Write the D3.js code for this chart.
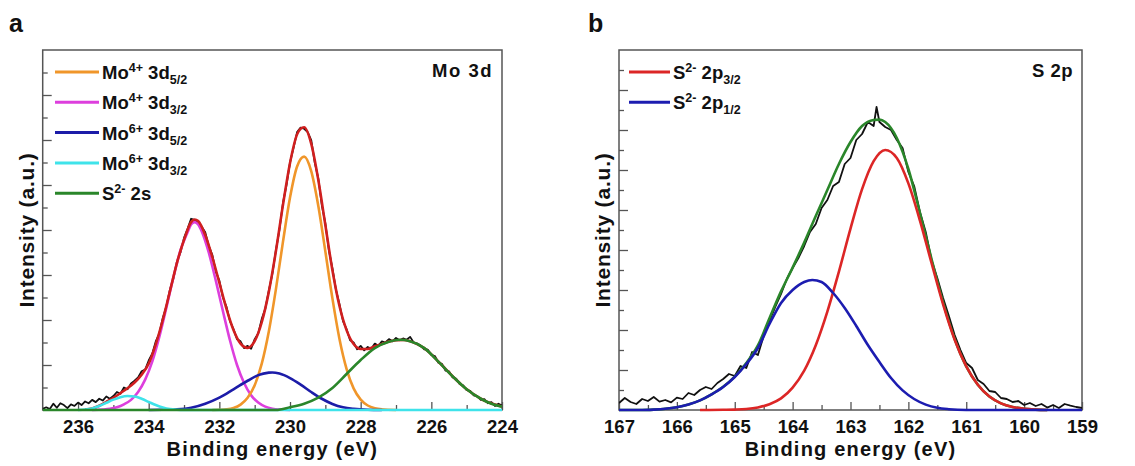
<!DOCTYPE html>
<html>
<head>
<meta charset="utf-8">
<script src="https://cdnjs.cloudflare.com/ajax/libs/d3/7.8.5/d3.min.js"></script>
<style>
body { margin: 0; background: #fff; }
svg { display: block; font-family: "Liberation Sans", Arial, sans-serif; font-weight: bold; }
</style>
</head>
<body>
<script>
// ---- panel a : Mo 3d ----
var moMajorX = [236, 234, 232, 230, 228, 226, 224];
var moMinorX = [235, 233, 231, 229, 227, 225];
var moMajorY = [2, 4, 6, 8, 10, 12, 14];
var moMinorY = [1, 3, 5, 7, 9, 11, 13, 15];
var moLegend = [['Mo', '4+', ' 3d', '5/2'], ['Mo', '4+', ' 3d', '3/2'], ['Mo', '6+', ' 3d', '5/2'], ['Mo', '6+', ' 3d', '3/2'], ['S', '2-', ' 2s', '']];

var moRaw = [[237.0,0.05],[236.9,0.12],[236.8,0.04],[236.7,0.28],[236.6,0.1],[236.5,0.3],[236.4,0.22],[236.3,0.08],[236.2,0.25],[236.1,0.18],
  [236.0,0.33],[235.9,0.22],[235.8,0.38],[235.7,0.3],[235.6,0.45],[235.5,0.35],[235.4,0.5],[235.3,0.42],[235.2,0.6],[235.1,0.5],
  [235.0,0.62],[234.9,0.8],[234.8,0.72],[234.7,1.0],[234.6,0.92],[234.5,1.18],[234.4,1.3],[234.3,1.45],[234.2,1.72],[234.1,1.8],
  [234.0,2.2],[233.9,2.5],[233.8,3.05],[233.7,3.4],[233.6,4.1],[233.5,4.6],[233.4,5.35],[233.3,5.85],[233.2,6.6],[233.1,7.0],
  [233.0,7.65],[232.9,8.05],[232.8,8.5],[232.7,8.45],[232.6,8.3],[232.5,8.15],[232.4,7.9],[232.3,7.3],[232.2,6.9],[232.1,6.15],
  [232.0,5.75],[231.9,5.0],[231.8,4.6],[231.7,3.95],[231.6,3.6],[231.5,3.15],[231.4,3.05],[231.3,2.75],[231.2,2.85],[231.1,2.72],
  [231.0,3.15],[230.9,3.4],[230.8,4.05],[230.7,4.5],[230.6,5.3],[230.5,6.05],[230.4,7.1],[230.3,8.0],[230.2,9.2],[230.1,10.0],
  [230.0,11.0],[229.9,11.65],[229.8,12.35],[229.7,12.55],[229.6,12.5],[229.5,12.35],[229.4,12.0],[229.3,11.0],[229.2,10.3],[229.1,9.1],
  [229.0,8.3],[228.9,7.1],[228.8,6.3],[228.7,5.35],[228.6,4.7],[228.5,3.95],[228.4,3.6],[228.3,3.1],[228.2,3.0],[228.1,2.7],
  [228.0,2.85],[227.9,2.65],[227.8,2.8],[227.7,2.72],[227.6,2.95],[227.5,2.85],[227.4,3.05],[227.3,3.0],[227.2,3.15],[227.1,3.05],
  [227.0,3.2],[226.9,3.1],[226.8,3.18],[226.7,3.12],[226.6,3.25],[226.5,3.0],[226.4,2.95],[226.3,2.85],[226.2,2.7],[226.1,2.68],
  [226.0,2.45],[225.9,2.4],[225.8,2.1],[225.7,2.05],[225.6,1.75],[225.5,1.72],[225.4,1.45],[225.3,1.4],[225.2,1.15],[225.1,1.1],
  [225.0,0.88],[224.9,0.85],[224.8,0.65],[224.7,0.62],[224.6,0.45],[224.5,0.48],[224.4,0.3],[224.3,0.35],[224.2,0.18],[224.1,0.28],[224.0,0.2]];

var moEnvelope = [[235.8,0.02],[235.6,0.07],[235.4,0.19],[235.2,0.36],[235.0,0.54],[234.8,0.75],[234.6,0.97],[234.4,1.22],[234.2,1.57],[234.0,2.06],
  [233.8,2.92],[233.6,4.01],[233.4,5.27],[233.2,6.54],[233.0,7.56],[232.8,8.35],[232.7,8.47],[232.6,8.4],[232.4,7.78],[232.2,6.8],
  [232.0,5.66],[231.8,4.51],[231.6,3.56],[231.4,2.95],[231.2,2.76],[231.0,3.06],[230.8,3.9],[230.6,5.25],[230.4,7.05],[230.2,9.11],
  [230.0,10.98],[229.8,12.25],[229.7,12.5],[229.6,12.57],[229.4,11.84],[229.2,10.23],[229.0,8.22],[228.8,6.21],[228.6,4.62],[228.4,3.55],
  [228.2,2.93],[228.0,2.71],[227.8,2.71],[227.6,2.83],[227.4,2.93],[227.2,3.04],[227.0,3.1],[226.8,3.11],[226.6,3.06],[226.4,2.93],
  [226.2,2.75],[226.0,2.47],[225.8,2.15],[225.6,1.83],[225.4,1.5],[225.2,1.2],[225.0,0.92],[224.8,0.7],[224.6,0.5],[224.4,0.35],[224.2,0.24],[224.0,0.15]];

var mo4d52 = [[232.2,0],[232.0,0.01],[231.8,0.03],[231.6,0.09],[231.4,0.24],[231.2,0.54],[231.0,1.1],[230.8,2.06],[230.6,3.49],[230.4,5.36],
  [230.2,7.47],[230.0,9.44],[229.8,10.82],[229.6,11.26],[229.4,10.62],[229.2,9.08],[229.0,7.05],[228.8,4.96],[228.6,3.16],[228.4,1.83],
  [228.2,0.96],[228.0,0.46],[227.8,0.2],[227.6,0.08],[227.4,0.03],[227.0,0]];

var mo4d32 = [[235.6,0],[235.3,0.02],[235.1,0.05],[234.9,0.12],[234.7,0.25],[234.5,0.45],[234.3,0.8],[234.1,1.35],[233.9,2.15],[233.7,3.25],
  [233.5,4.55],[233.3,5.9],[233.1,7.1],[232.9,7.9],[232.8,8.25],[232.7,8.35],[232.6,8.25],[232.5,7.95],[232.3,7.0],[232.1,5.75],
  [231.9,4.4],[231.7,3.1],[231.5,2.0],[231.3,1.2],[231.1,0.65],[230.9,0.33],[230.7,0.15],[230.5,0.06],[230.3,0.02],[230.0,0]];

var mo6d52 = [[234.0,0],[233.6,0.01],[233.2,0.03],[232.8,0.1],[232.4,0.28],[232.0,0.55],[231.6,0.92],[231.2,1.3],[230.9,1.55],[230.6,1.66],
  [230.5,1.67],[230.3,1.62],[230.0,1.42],[229.7,1.13],[229.4,0.8],[229.1,0.5],[228.8,0.27],[228.5,0.12],[228.2,0.05],[227.8,0.01],[227.4,0]];

var mo6d32 = [[236.0,0],[235.8,0.02],[235.6,0.07],[235.4,0.18],[235.2,0.32],[235.0,0.46],[234.8,0.57],[234.6,0.62],[234.4,0.6],[234.2,0.5],
  [234.0,0.36],[233.8,0.22],[233.6,0.11],[233.4,0.04],[233.2,0.01],[233.0,0],[224.0,0]];

var s2s = [[237.0,0],[230.4,0],[230.0,0.12],[229.6,0.28],[229.2,0.55],[228.8,0.98],[228.4,1.6],[228.0,2.22],[227.6,2.75],[227.2,3.03],
  [226.9,3.12],[226.6,3.06],[226.2,2.75],[225.8,2.15],[225.4,1.5],[225.0,0.92],[224.6,0.5],[224.3,0.28],[224.0,0.15]];

// ---- panel b : S 2p ----
var sMajorX = [167, 166, 165, 164, 163, 162, 161, 160, 159];
var sMinorX = [166.5, 165.5, 164.5, 163.5, 162.5, 161.5, 160.5, 159.5];
var sMajorY = [2, 4, 6, 8, 10, 12, 14, 16];
var sMinorY = [1, 3, 5, 7, 9, 11, 13, 15, 17];
var sLegend = [['S', '2-', ' 2p', '3/2'], ['S', '2-', ' 2p', '1/2']];

var sRaw = [[167.0,0.35],[166.9,0.6],[166.8,0.4],[166.7,0.3],[166.6,0.55],[166.5,0.45],[166.4,0.65],[166.3,0.42],[166.2,0.5],[166.1,0.38],
  [166.0,0.62],[165.9,0.55],[165.8,0.85],[165.7,0.75],[165.6,1.0],[165.5,1.15],[165.4,1.05],[165.3,1.35],[165.2,1.55],[165.1,1.8],
  [165.0,1.7],[164.9,2.2],[164.8,2.1],[164.7,2.9],[164.6,2.75],[164.5,3.7],[164.4,4.45],[164.3,5.15],[164.2,5.8],[164.1,6.55],
  [164.0,7.1],[163.9,7.6],[163.8,8.2],[163.7,8.9],[163.6,9.3],[163.5,10.1],[163.4,10.5],[163.3,11.2],[163.2,11.4],[163.1,12.3],
  [163.0,12.6],[162.9,13.5],[162.8,13.8],[162.7,14.4],[162.6,14.2],[162.55,15.15],[162.5,14.4],[162.4,14.15],[162.3,14.0],[162.2,13.5],
  [162.1,13.1],[162.0,11.9],[161.9,11.2],[161.8,9.9],[161.7,8.9],[161.6,7.5],[161.5,6.6],[161.4,5.6],[161.3,4.7],[161.2,3.75],
  [161.1,3.0],[161.0,2.35],[160.9,2.1],[160.8,1.5],[160.7,1.3],[160.6,0.95],[160.5,0.9],[160.4,0.6],[160.3,0.55],[160.2,0.4],
  [160.1,0.45],[160.0,0.25],[159.9,0.35],[159.8,0.2],[159.7,0.3],[159.6,0.12],[159.5,0.25],[159.4,0.1],[159.3,0.3],[159.2,0.22],
  [159.1,0.15],[159.0,0.1]];

var sEnvelope = [[167.0,0],[166.6,0],[166.4,0.02],[166.2,0.06],[166.0,0.14],[165.8,0.28],[165.6,0.48],[165.4,0.78],[165.2,1.16],[165.0,1.67],
  [164.8,2.35],[164.6,3.23],[164.4,4.59],[164.2,5.93],[164.0,7.12],[163.8,8.37],[163.6,9.7],[163.4,11.0],[163.2,12.3],[163.0,13.4],
  [162.8,14.2],[162.6,14.5],[162.5,14.52],[162.4,14.4],[162.2,13.6],[162.0,12.05],[161.8,9.85],[161.6,7.55],[161.4,5.38],[161.2,3.55],
  [161.0,2.18],[160.8,1.26],[160.6,0.67],[160.4,0.33],[160.2,0.15],[160.0,0.06],[159.8,0.02],[159.6,0]];

var s2p32 = [[165.6,0],[165.2,0.01],[165.0,0.02],[164.8,0.05],[164.6,0.13],[164.4,0.29],[164.2,0.58],[164.0,1.12],[163.8,1.97],[163.6,3.24],
  [163.4,4.92],[163.2,6.92],[163.0,9.07],[162.8,11.04],[162.6,12.44],[162.4,13.0],[162.2,12.6],[162.0,11.33],[161.8,9.47],[161.6,7.35],
  [161.4,5.28],[161.2,3.51],[161.0,2.18],[160.8,1.26],[160.6,0.67],[160.4,0.33],[160.2,0.15],[160.0,0.06],[159.8,0.02],[159.6,0]];

var s2p12 = [[167.0,0],[166.6,0],[166.4,0.02],[166.2,0.06],[166.0,0.14],[165.8,0.28],[165.6,0.48],[165.4,0.78],[165.2,1.15],[165.0,1.65],
  [164.8,2.3],[164.6,3.1],[164.4,4.3],[164.2,5.35],[164.0,6.0],[163.8,6.4],[163.66,6.5],[163.5,6.4],[163.3,5.85],[163.1,5.1],
  [162.9,4.2],[162.7,3.25],[162.5,2.4],[162.3,1.6],[162.1,0.98],[161.9,0.55],[161.7,0.27],[161.5,0.11],[161.3,0.04],[161.0,0],[159.0,0]];

var svg = d3.select('body').append('svg')
            .attr('width', 1135)
            .attr('height', 466);

function drawPanel(p) {
  var x = d3.scaleLinear().domain(p.xDomain).range([p.left, p.right]);
  var y = d3.scaleLinear().domain(p.yDomain).range([p.bottom, p.top]);
  var g = svg.append('g');

  // panel letter
  g.append('text')
   .attr('x', p.letterX).attr('y', 32)
   .style('font-size', '25px').style('fill', '#111')
   .text(p.letter);

  // frame
  g.append('rect')
   .attr('x', p.left).attr('y', p.top)
   .attr('width', p.right - p.left).attr('height', p.bottom - p.top)
   .style('fill', 'none').style('stroke', '#555').style('stroke-width', 1.5);

  // ticks point inward
  var bx = g.append('g').attr('transform', 'translate(0,' + p.bottom + ')')
            .call(d3.axisBottom(x).tickValues(p.majorX).tickSize(-8).tickPadding(10).tickFormat(d3.format('d')));
  g.append('g').attr('transform', 'translate(0,' + p.bottom + ')')
   .call(d3.axisBottom(x).tickValues(p.minorX).tickSize(-5).tickFormat(''));
  g.append('g').attr('transform', 'translate(' + p.left + ',0)')
   .call(d3.axisLeft(y).tickValues(p.majorY).tickSize(-9).tickFormat(''));
  g.append('g').attr('transform', 'translate(' + p.left + ',0)')
   .call(d3.axisLeft(y).tickValues(p.minorY).tickSize(-5).tickFormat(''));
  g.selectAll('.domain').remove();
  g.selectAll('.tick line').style('stroke', '#555').style('stroke-width', 1.3);
  bx.selectAll('text')
    .attr('font-family', null)
    .style('font-size', '18.5px').style('fill', '#111');

  // axis titles
  g.append('text')
   .attr('x', (p.left + p.right) / 2).attr('y', 456)
   .attr('text-anchor', 'middle')
   .style('font-size', '20px').style('letter-spacing', '1.2px').style('fill', '#111')
   .text('Binding energy (eV)');
  g.append('text')
   .attr('transform', 'translate(' + (p.left - 9) + ',' + ((p.top + p.bottom) / 2) + ') rotate(-90)')
   .attr('text-anchor', 'middle')
   .style('font-size', '21px').style('letter-spacing', '0.8px').style('fill', '#111')
   .text('Intensity (a.u.)');

  // curves
  var clipId = 'clip-' + p.letter;
  g.append('clipPath').attr('id', clipId)
   .append('rect')
   .attr('x', p.left).attr('y', p.top - 3)
   .attr('width', p.right - p.left).attr('height', p.bottom - p.top + 6);
  var plot = g.append('g').attr('clip-path', 'url(#' + clipId + ')');

  p.series.forEach(function(s) {
    var line = d3.line()
                 .x(function(d) { return x(d[0]); })
                 .y(function(d) { return y(d[1]); })
                 .curve(s.raw ? d3.curveLinear : d3.curveMonotoneX);
    plot.append('path')
        .datum(s.data)
        .attr('d', line)
        .style('fill', 'none')
        .style('stroke', s.color)
        .style('stroke-width', s.raw ? 1.8 : 2.6)
        .style('stroke-linejoin', 'round');
  });

  // label top right
  g.append('text')
   .attr('x', p.right - 9).attr('y', 77)
   .attr('text-anchor', 'end')
   .style('font-size', '18.5px').style('letter-spacing', p.titleSpacing).style('fill', '#111')
   .text(p.title);

  // legend
  p.legend.forEach(function(parts, i) {
    var ly = 72 + i * 30.3;
    g.append('line')
     .attr('x1', p.legendX1).attr('x2', p.legendX2)
     .attr('y1', ly).attr('y2', ly)
     .style('stroke', p.legendColors[i]).style('stroke-width', 3);
    var t = g.append('text')
             .attr('x', p.legendX2 + 3).attr('y', ly + 7)
             .style('font-size', '18.5px').style('fill', '#111');
    t.append('tspan').text(parts[0]);
    t.append('tspan').attr('dy', -7).style('font-size', '12.5px').text(parts[1]);
    t.append('tspan').attr('dy', 7).text(parts[2]);
    if (parts[3]) {
      t.append('tspan').attr('dy', 5).style('font-size', '12.5px').text(parts[3]);
    }
  });
}

drawPanel({
  letter: 'a', letterX: 9, title: 'Mo 3d', titleSpacing: '1.5px',
  left: 42.7, right: 502, top: 50, bottom: 410,
  xDomain: [237, 224], yDomain: [0, 16],
  majorX: moMajorX, minorX: moMinorX, majorY: moMajorY, minorY: moMinorY,
  legendX1: 55, legendX2: 99,
  legend: moLegend,
  legendColors: ['#f0962a', '#dd3fdd', '#1c1ca8', '#3fe3ea', '#2a862a'],
  series: [
    { data: moRaw, color: '#111', raw: true },
    { data: mo4d32, color: '#dd3fdd' },
    { data: moEnvelope, color: '#d01f1f' },
    { data: mo4d52, color: '#f0962a' },
    { data: mo6d52, color: '#1c1ca8' },
    { data: mo6d32, color: '#3fe3ea' },
    { data: s2s, color: '#2a862a' }
  ]
});

drawPanel({
  letter: 'b', letterX: 588, title: 'S 2p', titleSpacing: '0.5px',
  left: 619, right: 1082, top: 50, bottom: 410,
  xDomain: [167, 159], yDomain: [0, 18],
  majorX: sMajorX, minorX: sMinorX, majorY: sMajorY, minorY: sMinorY,
  legendX1: 629, legendX2: 670,
  legend: sLegend,
  legendColors: ['#dc2626', '#1c1cb0'],
  series: [
    { data: sRaw, color: '#111', raw: true },
    { data: sEnvelope, color: '#2a862a' },
    { data: s2p32, color: '#dc2626' },
    { data: s2p12, color: '#1c1cb0' }
  ]
});
</script>
</body>
</html>
